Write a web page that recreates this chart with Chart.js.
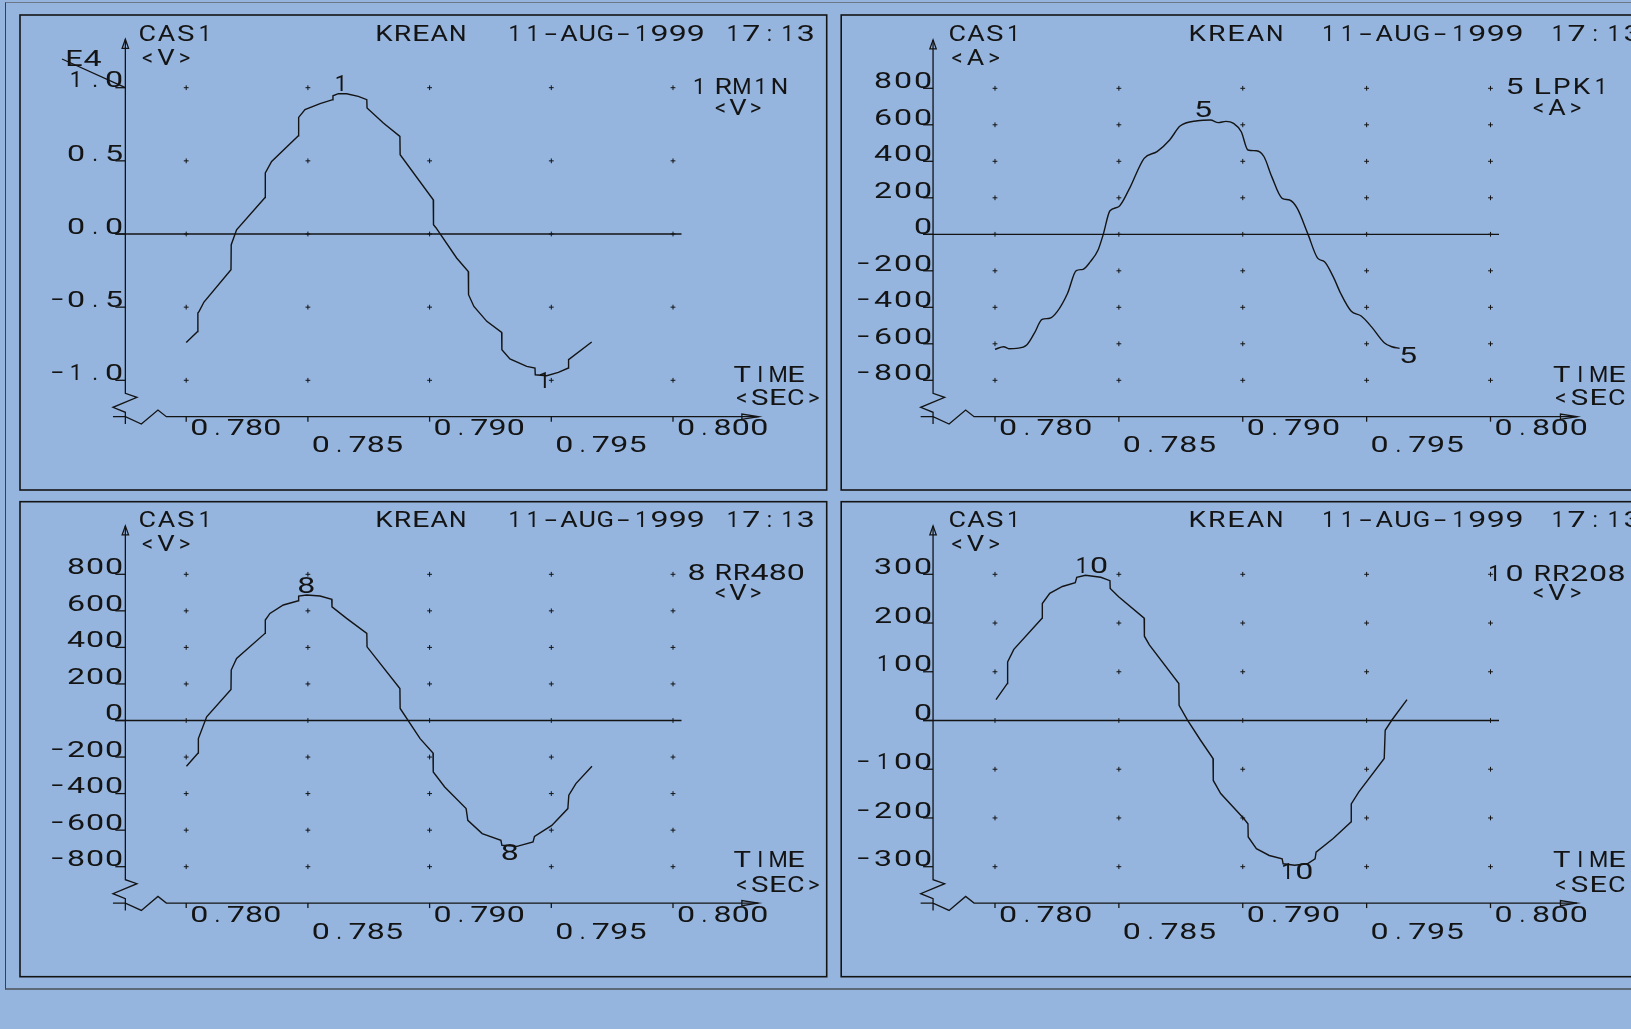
<!DOCTYPE html>
<html>
<head>
<meta charset="utf-8">
<title>CAS1 KREAN 11-AUG-1999 17:13</title>
<script src="https://cdn.jsdelivr.net/npm/chart.js@4/dist/chart.umd.min.js"></script>
<style>
  html, body { margin: 0; padding: 0; width: 1631px; height: 1029px; overflow: hidden; background: #95b5df; }
  .frame { position: absolute; left: 5px; top: 2px; width: 1700px; height: 985px;
           border-left: 1px solid #3a3f48; border-top: 1px solid #6c7888; border-bottom: 2px solid #5d6878; }
  canvas { position: absolute; left: 0; top: 0; }
</style>
</head>
<body>
<div class="frame"></div>
<canvas id="c1" width="1631" height="1029"></canvas>
<canvas id="c2" width="1631" height="1029"></canvas>
<canvas id="c3" width="1631" height="1029"></canvas>
<canvas id="c4" width="1631" height="1029"></canvas>
<script>
// ---- time axis (seconds) ----
const xTickValues = [0.780, 0.785, 0.790, 0.795, 0.800];
const xTickLabels = ['0.780', '0.785', '0.790', '0.795', '0.800'];

// ---- value axes ----
const yTicksRM1N  = [1.0, 0.5, 0.0, -0.5, -1.0];
const yLabelsRM1N = ['1.0', '0.5', '0.0', '−0.5', '−1.0'];
const yTicksLPK1  = [800, 600, 400, 200, 0, -200, -400, -600, -800];
const yLabelsLPK1 = ['800', '600', '400', '200', '0', '−200', '−400', '−600', '−800'];
const yTicksRR480  = [800, 600, 400, 200, 0, -200, -400, -600, -800];
const yLabelsRR480 = ['800', '600', '400', '200', '0', '−200', '−400', '−600', '−800'];
const yTicksRR208  = [300, 200, 100, 0, -100, -200, -300];
const yLabelsRR208 = ['300', '200', '100', '0', '−100', '−200', '−300'];

// ---- channel 1: RM1N <V> (x 1E4) ----
const t_RM1N = [0.78000,0.78047,0.78048,0.78053,0.78073,0.78184,0.78185,0.78207,0.78324,0.78325,0.78351,0.78461,0.78462,0.78488,0.78550,0.78602,0.78603,0.78625,0.78659,0.78707,0.78742,0.78743,0.78810,0.78878,0.78879,0.79015,0.79016,0.79026,0.79111,0.79159,0.79160,0.79182,0.79235,0.79296,0.79297,0.79330,0.79399,0.79433,0.79434,0.79481,0.79529,0.79570,0.79571,0.79666];
const v_RM1N = [-0.741,-0.666,-0.540,-0.529,-0.465,-0.244,-0.073,0.029,0.250,0.417,0.496,0.672,0.797,0.850,0.891,0.918,0.945,0.959,0.959,0.941,0.918,0.861,0.759,0.667,0.542,0.234,0.064,0.043,-0.164,-0.256,-0.415,-0.495,-0.597,-0.673,-0.791,-0.854,-0.905,-0.916,-0.962,-0.969,-0.946,-0.916,-0.859,-0.738];

// ---- channel 5: LPK1 <A> ----
const t_LPK1 = [0.78000,0.78035,0.78056,0.78087,0.78128,0.78159,0.78190,0.78221,0.78251,0.78293,0.78328,0.78355,0.78385,0.78416,0.78437,0.78464,0.78499,0.78540,0.78602,0.78654,0.78705,0.78747,0.78818,0.78870,0.78901,0.78932,0.78963,0.78994,0.79021,0.79055,0.79086,0.79117,0.79159,0.79189,0.79220,0.79262,0.79303,0.79330,0.79365,0.79395,0.79437,0.79478,0.79519,0.79571,0.79602,0.79633];
const i_LPK1 = [-630,-616,-627,-625,-607,-542,-466,-460,-424,-323,-199,-192,-150,-86,0,129,151,243,416,453,517,593,622,626,612,619,608,562,462,458,425,316,197,188,142,5,-132,-150,-232,-323,-420,-448,-506,-594,-616,-625];

// ---- channel 8: RR480 <V> ----
const t_RR480 = [0.78001,0.78049,0.78050,0.78084,0.78184,0.78185,0.78207,0.78324,0.78325,0.78344,0.78399,0.78461,0.78462,0.78495,0.78550,0.78598,0.78599,0.78659,0.78742,0.78743,0.78878,0.78879,0.78961,0.79014,0.79015,0.79062,0.79150,0.79157,0.79216,0.79293,0.79297,0.79359,0.79425,0.79431,0.79502,0.79568,0.79572,0.79601,0.79667];
const v_RR480 = [-250,-178,-99,20,170,276,340,477,550,586,632,655,681,687,681,663,622,559,477,403,175,66,-99,-178,-282,-364,-482,-546,-619,-656,-683,-689,-665,-634,-574,-482,-409,-345,-250];

// ---- channel 10: RR208 <V> ----
const t_RR208 = [0.78004,0.78050,0.78051,0.78076,0.78190,0.78191,0.78221,0.78272,0.78324,0.78330,0.78365,0.78427,0.78464,0.78465,0.78499,0.78602,0.78603,0.78623,0.78742,0.78743,0.78777,0.78829,0.78880,0.78881,0.78911,0.79004,0.79021,0.79022,0.79055,0.79107,0.79159,0.79163,0.79210,0.79261,0.79292,0.79296,0.79365,0.79437,0.79438,0.79468,0.79571,0.79575,0.79602,0.79663];
const v_RR208 = [43,76,120,146,210,240,261,275,283,294,298,294,287,271,254,210,173,155,76,31,1,-40,-78,-123,-150,-201,-212,-239,-263,-277,-284,-294,-297,-294,-284,-270,-242,-208,-171,-147,-78,-20,1,43];

// ---- drawing style ----
const INK = '#141414';
const FONT = '400 22px Roboto, "Noto Sans", "DejaVu Sans", sans-serif';
const X_MIN = 0.7775, X_MAX = 0.8025;
const W = 1631, H = 1029;

// plotter-style lettering: every glyph sits centred in its own cell
function targetWidth(ch) {
  if ('023456789'.includes(ch)) return 15;
  if (ch === 'M') return 16;
  if ('ABCDEGHKLNPRSTUVW'.includes(ch)) return 14.5;
  if (ch === '-') return 11;
  if (ch === '−') return 10;
  return null;
}
function halfW(ch) {
  const t = targetWidth(ch);
  if (t) return t / 2;
  if (ch === '1') return 3;
  if (ch === '.' || ch === ':') return 2.5;
  if (ch === '<' || ch === '>') return 4.5;
  if (ch === 'I') return 1;
  return 5;
}
function glyph(ctx, ch, cx, base) {
  if (ch === ' ') return;
  ctx.textAlign = 'center';
  ctx.textBaseline = 'alphabetic';
  const adv = ctx.measureText(ch).width;
  const ink = ch === '-' || ch === '−' ? adv * 0.7 : adv * 0.83;
  const t = targetWidth(ch);
  let s = 1;
  if (t && ink > 0) s = Math.max(0.7, Math.min(2, t / ink));
  ctx.save();
  ctx.translate(cx, base);
  ctx.scale(s, 1);
  ctx.fillText(ch, 0, 0);
  ctx.restore();
}
function spanText(ctx, str, L, R, base) {
  const n = str.length;
  if (n === 1) { glyph(ctx, str, (L + R) / 2, base); return; }
  const c0 = L + halfW(str[0]);
  const cN = R - halfW(str[n - 1]);
  const adv = (cN - c0) / (n - 1);
  for (let i = 0; i < n; i++) glyph(ctx, str[i], c0 + i * adv, base);
}
function leftText(ctx, str, L, base, adv) {
  const c0 = L + halfW(str[0]);
  for (let i = 0; i < str.length; i++) glyph(ctx, str[i], c0 + i * adv, base);
}
function rightText(ctx, str, R, base, adv) {
  const n = str.length;
  const cN = R - halfW(str[n - 1]);
  for (let i = 0; i < n; i++) glyph(ctx, str[i], cN - (n - 1 - i) * adv, base);
}
function centerText(ctx, str, cx, base, adv) {
  const n = str.length;
  const c0 = cx - (n - 1) * adv / 2;
  for (let i = 0; i < n; i++) glyph(ctx, str[i], c0 + i * adv, base);
}

// ---- panel layouts ----
const panels = [
  { id: 'c1', times: t_RM1N, values: v_RM1N, yTicks: yTicksRM1N, yLabels: yLabelsRM1N, yMin: -1, yMax: 1,
    area: { left: 125.35, right: 733.85, top: 87.7, bottom: 380.3 }, box: [20, 15, 826.7, 490],
    xAdv: 18.3, yAdv: 19, yLabelGap: 3.8, smooth: false,
    texts: [['CAS1', 140, 208, 40.7], ['<V>', 143, 189, 65], ['KREAN', 376.7, 465, 40.7],
            ['11-AUG-1999', 511.7, 703.3, 40.7], ['17:13', 730, 813.3, 40.7],
            ['1', 696.7, 701.7, 94.3], ['RM1N', 716, 786.7, 94.3], ['<V>', 716, 760, 115],
            ['TIME', 735, 803.3, 381.7], ['<SEC>', 737.3, 818.3, 405], ['E4', 66.7, 100, 65.7]],
    exponentLine: [62, 59],
    marks: [{ text: '1', i: 17, dx: 2.7, dy: -2.3 }, { text: '1', i: 39, dx: -2.5, dy: 12.3 }] },
  { id: 'c2', times: t_LPK1, values: i_LPK1, yTicks: yTicksLPK1, yLabels: yLabelsLPK1, yMin: -800, yMax: 800,
    area: { left: 933.06, right: 1552.44, top: 88.3, bottom: 380.3 }, box: [841.2, 15, 1700, 490],
    xAdv: 18.8, yAdv: 20, yLabelGap: 2.5, smooth: true,
    texts: [['CAS1', 950, 1016.5, 41], ['<A>', 952.6, 998.6, 65], ['KREAN', 1190, 1282, 41],
            ['11-AUG-1999', 1325.5, 1522, 41], ['17:13', 1555, 1640, 41],
            ['5', 1507, 1522, 94.3], ['LPK1', 1535, 1604, 94.3], ['<A>', 1534, 1580, 115],
            ['TIME', 1554.4, 1624.3, 381.7], ['<SEC>', 1556.4, 1640, 405]],
    marks: [{ text: '5', i: 23, dx: -7.6, dy: -2.7 }, { text: '5', i: 45, dx: 8.4, dy: 14.4 }] },
  { id: 'c3', times: t_RR480, values: v_RR480, yTicks: yTicksRR480, yLabels: yLabelsRR480, yMin: -800, yMax: 800,
    area: { left: 125.35, right: 733.85, top: 574.3, bottom: 866.7 }, box: [20, 501.7, 826.7, 976.7],
    xAdv: 18.3, yAdv: 19, yLabelGap: 3.8, smooth: false,
    texts: [['CAS1', 140, 208, 527], ['<V>', 143, 189, 551], ['KREAN', 376.7, 465, 527],
            ['11-AUG-1999', 511.7, 703.3, 527], ['17:13', 730, 813.3, 527],
            ['8', 690, 703.3, 580], ['RR480', 716, 803.3, 580], ['<V>', 716, 760, 600],
            ['TIME', 735, 803.3, 867.3], ['<SEC>', 737.3, 818.3, 891.7]],
    marks: [{ text: '8', i: 13, dx: -0.4, dy: -1.7 }, { text: '8', i: 31, dx: -7.2, dy: 13.3 }] },
  { id: 'c4', times: t_RR208, values: v_RR208, yTicks: yTicksRR208, yLabels: yLabelsRR208, yMin: -300, yMax: 300,
    area: { left: 933.06, right: 1552.44, top: 574.3, bottom: 866.7 }, box: [841.2, 501.7, 1700, 976.7],
    xAdv: 18.8, yAdv: 20, yLabelGap: 2.5, smooth: false,
    texts: [['CAS1', 950, 1016.5, 527], ['<V>', 952.6, 998.6, 551], ['KREAN', 1190, 1282, 527],
            ['11-AUG-1999', 1325.5, 1522, 527], ['17:13', 1555, 1640, 527],
            ['10', 1491.5, 1522, 580.7], ['RR208', 1535, 1624, 580.7], ['<V>', 1534, 1580, 600],
            ['TIME', 1554.4, 1624.3, 867.3], ['<SEC>', 1556.4, 1640, 891.7]],
    marks: [{ text: '10', i: 10, dx: 5.1, dy: -2 }, { text: '10', i: 32, dx: 1.1, dy: 13.3 }] }
];

// axes, break marks, arrows, lettering
function makeDecor(p) {
  return {
    id: 'decor_' + p.id,
    afterDraw(chart) {
      const ctx = chart.ctx, X = chart.scales.x, Y = chart.scales.y;
      const ax = X.left, ay = Y.bottom + 36.4, top = Y.top - 48.4, xEnd = X.right + 24.5;
      ctx.save();
      ctx.strokeStyle = INK; ctx.fillStyle = INK;
      ctx.lineJoin = 'miter';

      // panel frame
      ctx.lineWidth = 1.6;
      const [bl, bt, br, bb] = p.box;
      ctx.strokeRect(bl, bt, br - bl, bb - bt);

      // axes with break symbols
      ctx.lineWidth = 1.3;
      ctx.beginPath();
      ctx.moveTo(ax, top); ctx.lineTo(ax, ay - 23.4);
      ctx.lineTo(ax + 11.6, ay - 19.4); ctx.lineTo(ax - 12.4, ay - 9.4); ctx.lineTo(ax, ay - 4.4);
      ctx.lineTo(ax, ay + 7.3);
      ctx.moveTo(ax - 12.4, ay); ctx.lineTo(ax, ay);
      ctx.lineTo(ax + 16, ay + 7.3); ctx.lineTo(ax + 32.6, ay - 6.7); ctx.lineTo(ax + 41, ay);
      ctx.lineTo(xEnd, ay);
      ctx.stroke();

      // arrow heads
      ctx.beginPath();
      ctx.moveTo(ax, top); ctx.lineTo(ax - 3.2, top + 9); ctx.lineTo(ax + 3.2, top + 9); ctx.closePath();
      ctx.stroke();
      ctx.beginPath();
      ctx.moveTo(xEnd, ay); ctx.lineTo(xEnd - 16.5, ay - 2.6); ctx.lineTo(xEnd - 16.5, ay + 2.6); ctx.closePath();
      ctx.stroke();

      // zero reference line
      const y0 = Y.getPixelForValue(0);
      ctx.beginPath();
      ctx.moveTo(ax - 10, y0);
      ctx.lineTo(X.getPixelForValue(xTickValues[xTickValues.length - 1]) + 8.5, y0);
      ctx.stroke();

      ctx.font = FONT;
      // value ticks and labels
      p.yTicks.forEach((v, i) => {
        const y = Y.getPixelForValue(v);
        ctx.beginPath(); ctx.moveTo(ax - 10, y); ctx.lineTo(ax, y); ctx.stroke();
        rightText(ctx, p.yLabels[i], ax - p.yLabelGap, y - 0.3, p.yAdv);
      });
      // time ticks and staggered labels
      xTickValues.forEach((v, i) => {
        const x = X.getPixelForValue(v);
        ctx.beginPath(); ctx.moveTo(x, ay); ctx.lineTo(x, ay + 5); ctx.stroke();
        leftText(ctx, xTickLabels[i], x + 5.5, ay + (i % 2 ? 35.6 : 18.4), p.xAdv);
      });

      // headings and channel legend
      p.texts.forEach(([s, L, R, b]) => spanText(ctx, s, L, R, b));

      // exponent pointer
      if (p.exponentLine) {
        ctx.beginPath();
        ctx.moveTo(p.exponentLine[0], p.exponentLine[1]);
        ctx.lineTo(ax, Y.getPixelForValue(p.yMax));
        ctx.stroke();
      }

      // channel numbers written on the trace
      p.marks.forEach(m => {
        const px = X.getPixelForValue(p.times[m.i]);
        const py = Y.getPixelForValue(p.values[m.i]);
        centerText(ctx, m.text, px + m.dx, py + m.dy, 17);
      });
      ctx.restore();
    }
  };
}

panels.forEach(p => {
  const crosses = [];
  xTickValues.forEach(xv => p.yTicks.forEach(yv => crosses.push({ x: xv, y: yv })));
  new Chart(document.getElementById(p.id), {
    type: 'line',
    data: {
      datasets: [
        { data: p.times.map((t, i) => ({ x: t, y: p.values[i] })),
          borderColor: INK, borderWidth: 1.4, pointRadius: 0, fill: false, clip: false,
          tension: 0, cubicInterpolationMode: p.smooth ? 'monotone' : 'default', order: 0 },
        { data: crosses, showLine: false, pointStyle: 'cross', pointRadius: 2.4,
          pointBorderWidth: 1, pointBorderColor: INK, pointBackgroundColor: INK, clip: false, order: 1 }
      ]
    },
    options: {
      responsive: false, animation: false, devicePixelRatio: 1, events: [],
      layout: { padding: { left: p.area.left, top: p.area.top, right: W - p.area.right, bottom: H - p.area.bottom } },
      scales: {
        x: { type: 'linear', min: X_MIN, max: X_MAX, display: false },
        y: { type: 'linear', min: p.yMin, max: p.yMax, display: false }
      },
      plugins: { legend: { display: false }, tooltip: { enabled: false }, title: { display: false } }
    },
    plugins: [makeDecor(p)]
  });
});
</script>
</body>
</html>
